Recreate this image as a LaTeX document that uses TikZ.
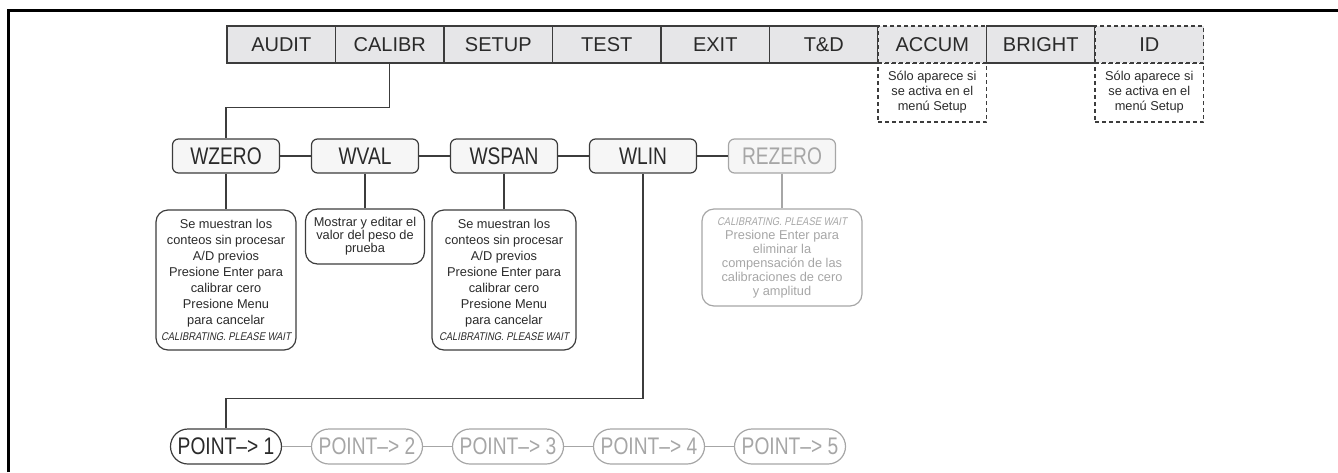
\documentclass[tikz,border=0pt]{standalone}
\usepackage{fontspec}
\setmainfont{Liberation Sans}
\newfontfamily\narrowfont[FakeStretch=0.8]{Liberation Sans}
\newfontfamily\lcdfont[FakeStretch=0.84,FakeSlant=0.2]{Liberation Sans}
\newcommand{\lcdtext}[1]{{\lcdfont\fontsize{5.6}{7}\selectfont #1}}

\definecolor{darkline}{HTML}{3C3C3C}
\definecolor{darktext}{HTML}{2A2A2A}
\definecolor{fadeline}{HTML}{A6A6A6}
\definecolor{menufill}{HTML}{E6E6E8}
\definecolor{boxfill}{HTML}{F6F6F6}

\tikzset{
  menubox/.style={draw=darkline, fill=menufill, text=darktext, line width=0.6pt,
    minimum width=54.25pt, minimum height=18.5pt, inner sep=0pt,
    font=\fontsize{10}{12}\selectfont},
  optbox/.style={menubox, dash pattern=on 2pt off 1.5pt},
  notebox/.style={draw=darkline, text=darktext, line width=0.6pt,
    dash pattern=on 2pt off 1.5pt, minimum width=54.25pt, minimum height=29.5pt,
    inner sep=0pt, align=center, font=\fontsize{6.4}{7.5}\selectfont},
  parbox/.style={draw=darkline, fill=boxfill, text=darktext, line width=0.6pt,
    rounded corners=3pt, minimum width=53.5pt, minimum height=17pt, inner sep=0pt,
    font=\narrowfont\fontsize{12}{14}\selectfont},
  descbox/.style={draw=darkline, text=darktext, line width=0.6pt, rounded corners=6pt,
    inner sep=0pt, align=center, font=\fontsize{6.4}{8}\selectfont},
  pointbox/.style={draw=darkline, text=darktext, line width=0.6pt, rounded corners=8.75pt,
    minimum width=55.5pt, minimum height=17.5pt, inner sep=0pt,
    font=\narrowfont\fontsize{12}{14}\selectfont},
  link/.style={draw=darkline, line width=0.6pt},
  faded/.style={draw=fadeline, text=fadeline},
}

\begin{document}
\begin{tikzpicture}[x=0.5pt, y=-0.5pt]
  \useasboundingbox (0,0) rectangle (1338,472);
  \draw[line width=1.5pt] (8.5,472) -- (8.5,10.5) -- (1338,10.5);

  \node[notebox] (accumnote) at (932.25,92.5) {Sólo aparece si\\se activa en el\\menú Setup};
  \node[notebox] (idnote) at (1149.25,92.5) {Sólo aparece si\\se activa en el\\menú Setup};
  \foreach \nm/\txt/\sty [count=\i from 0] in {audit/AUDIT/menubox, calibr/CALIBR/menubox,
      setup/SETUP/menubox, test/TEST/menubox, exit/EXIT/menubox, td/T\&D/menubox,
      accum/ACCUM/optbox, bright/BRIGHT/menubox, id/ID/optbox}
    \node[\sty] (\nm) at ({281.25+108.5*\i},44.5) {\txt};

  \foreach \nm/\txt [count=\i from 0] in {wzero/WZERO, wval/WVAL, wspan/WSPAN, wlin/WLIN}
    \node[parbox] (\nm) at ({226+139*\i},156) {\txt};
  \node[parbox, faded] (rezero) at (782,156) {REZERO};
  \draw[link] (calibr.south) -- ++(0,44) -| (wzero.north);
  \foreach \a/\b in {wzero/wval, wval/wspan, wspan/wlin, wlin/rezero}
    \draw[link] (\a) -- (\b);

  \node[descbox, minimum width=70pt, minimum height=70pt] (wzerotxt) at (226,280)
    {Se muestran los\\conteos sin procesar\\A/D previos\\Presione Enter para\\calibrar cero\\
     Presione Menu\\para cancelar\\\lcdtext{CALIBRATING. PLEASE WAIT}};
  \node[descbox, minimum width=59.5pt, minimum height=27.5pt,
    font=\fontsize{6.4}{6.5}\selectfont] (wvaltxt) at (365,236.5)
    {Mostrar y editar el\\valor del peso de\\prueba};
  \node[descbox, minimum width=72pt, minimum height=70pt] (wspantxt) at (504,280)
    {Se muestran los\\conteos sin procesar\\A/D previos\\Presione Enter para\\calibrar cero\\
     Presione Menu\\para cancelar\\\lcdtext{CALIBRATING. PLEASE WAIT}};
  \node[descbox, faded, minimum width=80pt, minimum height=48.5pt,
    font=\fontsize{6.4}{7}\selectfont] (rezerotxt) at (782,257.5)
    {\lcdtext{CALIBRATING. PLEASE WAIT}\\Presione Enter para\\eliminar la\\
     compensación de las\\calibraciones de cero\\y amplitud};
  \foreach \a in {wzero, wval, wspan}
    \draw[link] (\a) -- (\a txt);
  \draw[link, draw=fadeline] (rezero) -- (rezerotxt);

  \node[pointbox] (point1) at (226,446.5) {POINT–> 1};
  \foreach \k in {2,...,5}
    \node[pointbox, faded] (point\k) at ({226+141*(\k-1)},446.5) {POINT–> \k};
  \draw[link] (wlin.south) -- ++(0,224.5) -| (point1.north);
  \foreach \a/\b in {1/2, 2/3, 3/4, 4/5}
    \draw[link, draw=fadeline] (point\a) -- (point\b);
\end{tikzpicture}
\end{document}
